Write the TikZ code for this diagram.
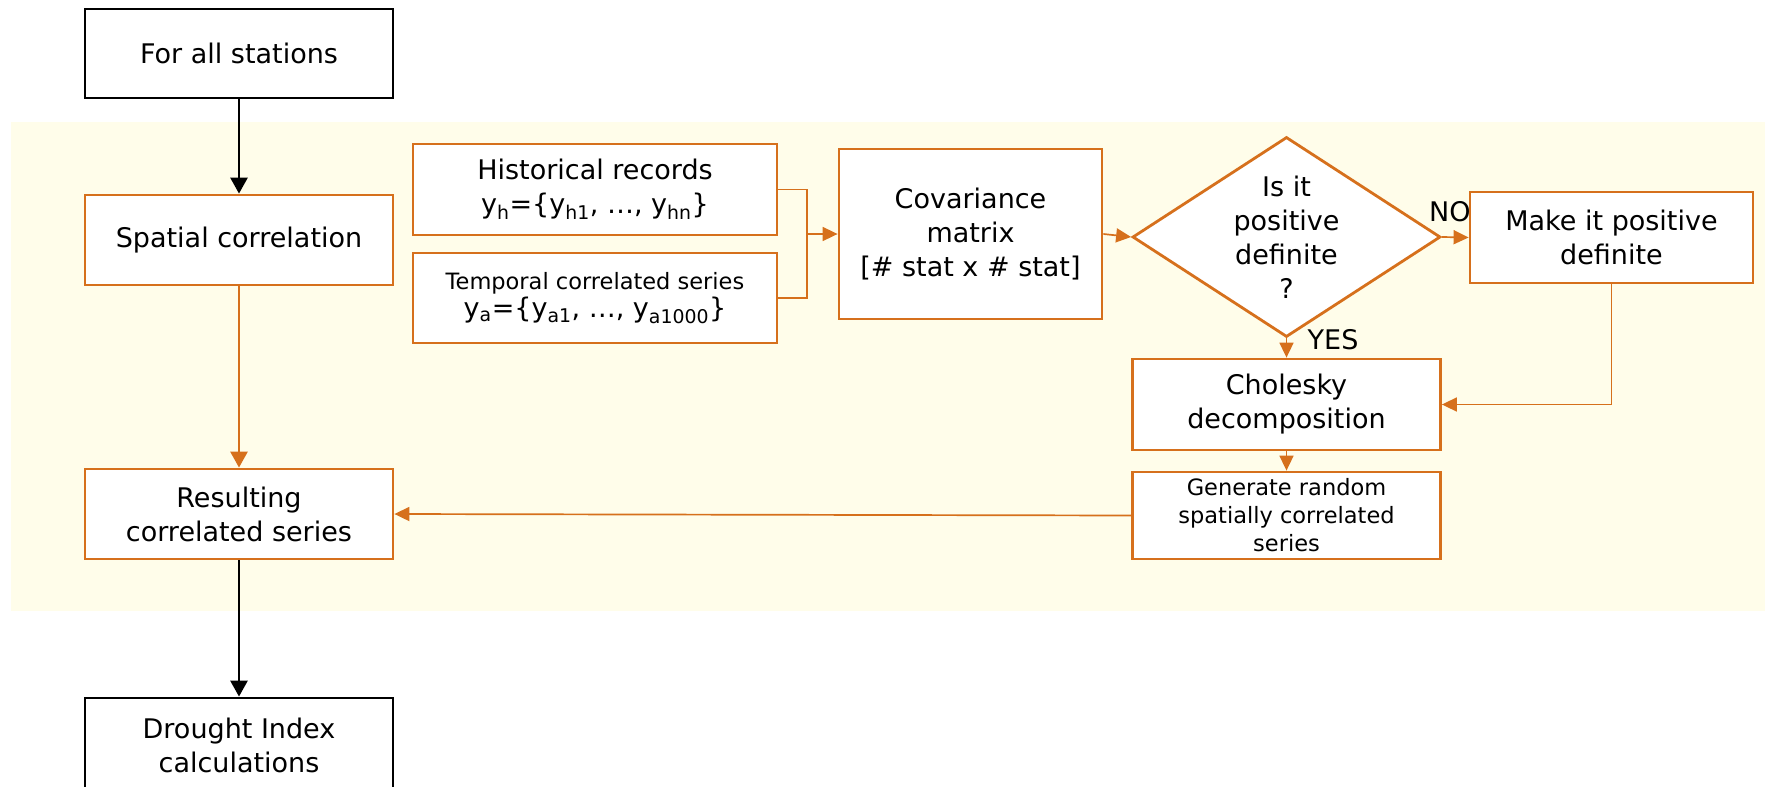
\documentclass[tikz,border=0pt]{standalone}
\usepackage{fontspec}
\setmainfont{DejaVu Sans}
\usetikzlibrary{shapes.geometric,arrows.meta}
\definecolor{org}{RGB}{214,112,28}
\definecolor{bgy}{RGB}{255,253,234}
\begin{document}
\begin{tikzpicture}[x=1pt,y=-1pt,
  box/.style={draw, fill=white, line width=2.8pt, align=center, inner sep=0pt},
  blackbox/.style={box, draw=black},
  orgbox/.style={box, draw=org},
  big/.style={font=\fontsize{27}{34}\selectfont},
  small/.style={font=\fontsize{22.5}{28}\selectfont},
  tip/.style={-{Triangle[length=16pt,width=17pt]}},
  smalltip/.style={-{Triangle[length=15pt,width=14pt]}},
  thin/.style={draw=org, line width=1.7pt},
  thick/.style={line width=2.7pt}
]
\useasboundingbox (0,0) rectangle (1765,787);
\fill[bgy] (11,122) rectangle (1765,611);

\node[blackbox, big, minimum width=308pt, minimum height=89pt] (all) at (239,53.5) {For all stations};
\node[orgbox, big, minimum width=308pt, minimum height=90pt] (spatial) at (239,240) {Spatial correlation};
\node[orgbox, big, minimum width=308pt, minimum height=90pt] (result) at (239,514) {Resulting\\correlated series};
\node[blackbox, big, minimum width=308pt, minimum height=94pt] (drought) at (239,745) {Drought Index\\calculations};

\node[orgbox, big, minimum width=364pt, minimum height=91pt] (hist) at (595,189.5) {Historical records\\y\textsubscript{h}=\{y\textsubscript{h1}, …, y\textsubscript{hn}\}};
\node[orgbox, small, minimum width=364pt, minimum height=90pt] (temp) at (595,298) {Temporal correlated series\\{\fontsize{27}{34}\selectfont y\textsubscript{a}=\{y\textsubscript{a1}, …, y\textsubscript{a1000}\}}};
\node[orgbox, big, minimum width=263pt, minimum height=170pt] (cov) at (970.5,234) {Covariance\\matrix\\{[}\# stat x \# stat{]}};

\node[draw=org, fill=white, line width=2.8pt, shape=diamond, inner sep=0pt, minimum width=308pt, minimum height=200pt] (dia) at (1286.5,237) {};
\node[big, align=center] (diatext) at (dia.center) {Is it\\positive\\definite\\?};

\node[orgbox, big, minimum width=283pt, minimum height=91pt] (make) at (1611.5,237.5) {Make it positive\\definite};
\node[orgbox, big, minimum width=308pt, minimum height=91pt] (chol) at (1286.5,404.5) {Cholesky\\decomposition};
\node[orgbox, small, minimum width=308pt, minimum height=87pt] (gen) at (1286.5,515.5) {Generate random\\spatially correlated\\series};

\coordinate (j) at (807,234);

% connectors
\draw[thick, tip] (all) -- (spatial);
\draw[thick, draw=org, tip] (spatial) -- (result);
\draw[thick, tip] (result) -- (drought);

\draw[thin] (hist.east) -| (j);
\draw[thin] (temp.east) -| (j);
\draw[thin, smalltip] (j) -- (cov.west);
\draw[thin, smalltip] (cov.east) -- (dia.west);
\draw[thin, smalltip] (dia.east) -- (make.west) node[pos=0.3, above=11pt, big, text=black] (no) {NO};
\draw[thin, smalltip] (dia.south) -- (chol.north) node[pos=0.05, right=17pt, big, text=black] (yes) {YES};
\draw[thin, smalltip] (make.south) |- (chol.east);
\draw[thin, smalltip] (chol.south) -- (gen.north);
\draw[thin, smalltip] (gen.west) -- (result.east);
\end{tikzpicture}
\end{document}
